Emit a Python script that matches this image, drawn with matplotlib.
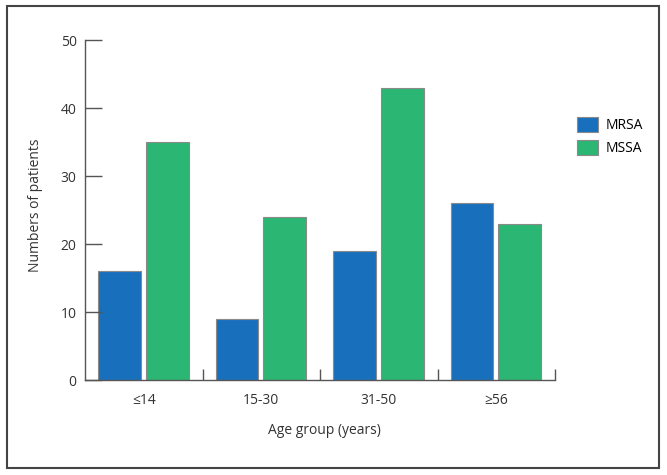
import numpy as np
import matplotlib.pyplot as plt
from matplotlib.patches import Rectangle

plt.rcParams['font.family'] = ['Open Sans', 'DejaVu Sans']

groups = ['≤14', '15-30', '31-50', '≥56']
mrsa = [16, 9, 19, 26]
mssa = [35, 24, 43, 23]

blue = '#1870bd'
green = '#2cb673'
axis_col = '#555555'

fig = plt.figure(figsize=(6.67, 4.75), dpi=100)
ax = fig.add_axes([85 / 667, 95 / 475, 470 / 667, 340 / 475])

x = np.arange(len(groups))
w = 0.365
ax.bar(x - 0.206, mrsa, w, color=blue, edgecolor='#8a8a8a', linewidth=0.8, label='MRSA')
ax.bar(x + 0.2, mssa, w, color=green, edgecolor='#8a8a8a', linewidth=0.8, label='MSSA')

ax.set_xlim(-0.5, 3.5)
ax.set_ylim(0, 50)
ax.set_yticks([0, 10, 20, 30, 40, 50])
ax.set_xticks(x)
ax.set_xticklabels(groups)
ax.set_xticks(np.arange(0.5, 4, 1), minor=True)
ax.tick_params(axis='x', which='major', length=0, pad=9, labelsize=10, labelcolor='#333333')
ax.tick_params(axis='x', which='minor', direction='in', length=8, width=1, color=axis_col)
ax.tick_params(axis='y', direction='in', length=12, width=1, color=axis_col,
               labelsize=10, labelcolor='#333333', pad=6)

for s in ['top', 'right']:
    ax.spines[s].set_visible(False)
for s in ['left', 'bottom']:
    ax.spines[s].set_color(axis_col)
    ax.spines[s].set_linewidth(1)

ax.set_xlabel('Age group (years)', fontsize=10, color='#333333', va='center')
ax.set_ylabel('Numbers of patients', fontsize=10, color='#333333', va='center')
ax.xaxis.set_label_coords(0.51, -0.148)
ax.yaxis.set_label_coords(-0.106, 0.515)

ax.legend(loc='upper left', bbox_to_anchor=(1.02, 0.81), frameon=False,
          fontsize=10, handlelength=1.5, handleheight=1.3, labelspacing=0.45,
          handletextpad=0.6)

fig.patches.append(Rectangle((7 / 667, 7 / 475), 652 / 667, 462 / 475, transform=fig.transFigure,
                             fill=False, edgecolor='#444444', linewidth=1.5))

fig.savefig('out.png', dpi=100)
